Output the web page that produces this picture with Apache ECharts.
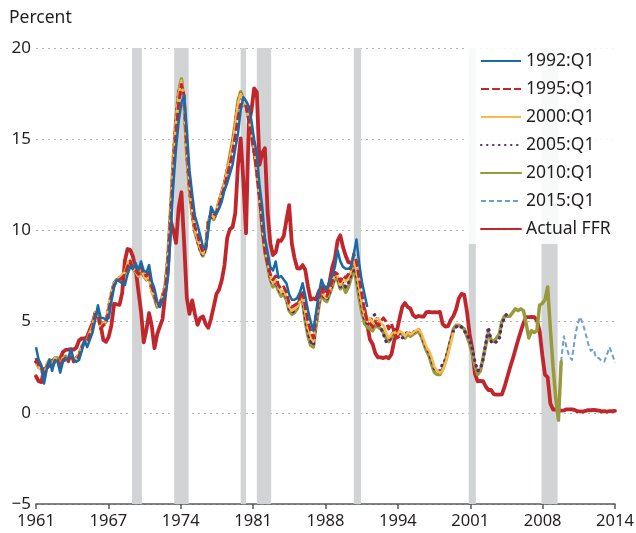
<!DOCTYPE html>
<html><head><meta charset="utf-8">
<script src="https://cdn.jsdelivr.net/npm/echarts@6.0.0/dist/echarts.min.js"></script>
<style>html,body{margin:0;padding:0;background:#fff}#c{width:636px;height:533px}</style>
</head><body><div id="c"></div>
<script>
const baseYear = 1961;
const xTickLabels = ['1961','1967','1974','1981','1988','1994','2001','2008','2014'];
const recessions = [[1969.92,1970.83],[1973.83,1975.17],[1980.0,1980.5],[1981.5,1982.83],[1990.5,1991.17],[2001.17,2001.83],[2007.92,2009.42]];

// Actual FFR, quarterly averages from 1961:Q1
const ffrQuarterly = [
2.00,1.73,1.68,2.40, 2.46,2.61,2.85,2.92, 2.97,2.96,3.33,3.45, 3.46,3.49,3.46,3.58,
3.97,4.08,4.07,4.17, 4.56,4.91,5.41,5.56, 4.82,3.99,3.89,4.17, 4.79,5.98,5.94,5.92,
6.57,8.33,8.98,8.94, 8.57,7.88,6.70,5.57, 3.86,4.56,5.47,4.75, 3.54,4.30,4.74,5.14,
6.54,7.82,10.56,10.00, 9.32,11.25,12.09,9.35, 6.30,5.42,6.16,5.41, 4.83,5.20,5.28,4.87,
4.66,5.16,5.82,6.51, 6.76,7.28,8.10,9.58, 10.07,10.18,10.95,13.58, 15.05,12.69,9.84,15.85,
16.57,17.78,17.58,13.59, 14.23,14.51,11.01,9.29, 8.65,8.80,9.46,9.43, 9.69,10.56,11.39,9.27,
8.48,7.92,7.90,8.10, 7.83,6.92,6.21,6.27, 6.22,6.65,6.84,6.92, 6.66,7.16,7.98,8.47,
9.44,9.73,9.08,8.61, 8.25,8.24,8.16,7.74, 6.43,5.86,5.64,4.82, 4.02,3.77,3.26,3.04,
3.04,3.00,3.06,2.99, 3.21,3.94,4.49,5.17, 5.81,6.02,5.80,5.72, 5.36,5.24,5.31,5.28,
5.28,5.52,5.53,5.51, 5.52,5.50,5.53,4.86, 4.73,4.75,5.09,5.31, 5.68,6.27,6.52,6.47,
5.59,4.33,3.50,2.13, 1.73,1.75,1.74,1.44, 1.25,1.25,1.02,1.00, 1.00,1.01,1.43,1.95,
2.47,2.94,3.46,3.98, 4.46,4.91,5.25,5.25, 5.26,5.25,5.07,4.50, 3.18,2.09,1.94,0.51,
0.18,0.18,0.16,0.12, 0.13,0.19,0.19,0.19, 0.16,0.09,0.08,0.07, 0.10,0.15,0.14,0.16,
0.14,0.12,0.08,0.09, 0.07,0.09,0.09,0.10];

const v1992 = [[1961.0,3.6],[1961.25,2.9],[1961.5,2.6],[1961.75,1.6],[1962.0,2.4],[1962.25,2.9],[1962.5,2.3],[1962.75,2.9],[1963.0,2.8],[1963.25,2.2],[1963.5,2.8],[1963.75,2.9],[1964.0,3.0],[1964.25,3.5],[1964.5,2.9],[1964.75,2.8],[1965.0,2.9],[1965.25,3.4],[1965.5,4.0],[1965.75,3.6],[1966.0,4.0],[1966.25,4.4],[1966.5,5.1],[1966.75,5.9],[1967.0,5.2],[1967.25,5.2],[1967.5,5.1],[1967.75,5.2],[1968.0,6.1],[1968.25,6.9],[1968.5,7.3],[1968.75,7.2],[1969.0,7.1],[1969.25,7.0],[1969.5,7.6],[1969.75,8.0],[1970.0,7.9],[1970.25,8.2],[1970.5,7.8],[1970.75,8.3],[1971.0,7.8],[1971.25,7.7],[1971.5,8.1],[1971.75,7.2],[1972.0,6.8],[1972.25,6.1],[1972.5,5.8],[1972.75,6.2],[1973.0,6.4],[1973.25,7.5],[1973.5,9.8],[1973.75,12.5],[1974.0,14.5],[1974.25,16.0],[1974.5,17.0],[1974.75,17.4],[1975.0,15.5],[1975.25,13.3],[1975.5,12.0],[1975.75,10.8],[1976.0,10.3],[1976.25,9.7],[1976.5,9.1],[1976.75,9.0],[1977.0,10.0],[1977.25,11.3],[1977.5,11.0],[1977.75,10.9],[1978.0,11.2],[1978.25,11.6],[1978.5,12.2],[1978.75,12.6],[1979.0,13.1],[1979.25,13.6],[1979.5,14.5],[1979.75,15.3],[1980.0,16.6],[1980.25,17.3],[1980.5,17.1],[1980.75,16.8],[1981.0,16.0],[1981.25,15.0],[1981.5,14.2],[1981.75,12.5],[1982.0,11.3],[1982.25,9.6],[1982.5,8.8],[1982.75,8.0],[1983.0,7.8],[1983.25,8.3],[1983.5,7.4],[1983.75,7.5],[1984.0,7.3],[1984.25,7.1],[1984.5,6.5],[1984.75,6.2],[1985.0,6.2],[1985.25,6.3],[1985.5,6.6],[1985.75,7.1],[1986.0,6.4],[1986.25,5.6],[1986.5,5.0],[1986.75,4.5],[1987.0,5.5],[1987.25,6.5],[1987.5,7.3],[1987.75,6.9],[1988.0,6.8],[1988.25,7.2],[1988.5,7.5],[1988.75,8.0],[1989.0,8.9],[1989.25,8.3],[1989.5,8.0],[1989.75,7.9],[1990.0,7.9],[1990.25,8.0],[1990.5,8.7],[1990.75,9.5],[1991.0,8.2],[1991.25,7.2],[1991.5,6.5],[1991.75,5.8]];

const v1995 = [[1961.0,3.0],[1961.25,2.6],[1961.5,2.5],[1961.75,1.9],[1962.0,2.5],[1962.25,2.8],[1962.5,2.5],[1962.75,2.8],[1963.0,2.9],[1963.25,2.5],[1963.5,2.9],[1963.75,3.0],[1964.0,2.8],[1964.25,3.2],[1964.5,2.8],[1964.75,2.9],[1965.0,3.1],[1965.25,3.5],[1965.5,3.9],[1965.75,3.9],[1966.0,4.3],[1966.25,4.6],[1966.5,5.4],[1966.75,5.4],[1967.0,4.6],[1967.25,4.8],[1967.5,4.9],[1967.75,5.6],[1968.0,6.4],[1968.25,7.0],[1968.5,7.2],[1968.75,7.3],[1969.0,7.4],[1969.25,7.6],[1969.5,8.0],[1969.75,8.3],[1970.0,7.9],[1970.25,7.8],[1970.5,7.6],[1970.75,8.0],[1971.0,7.6],[1971.25,7.5],[1971.5,7.8],[1971.75,6.9],[1972.0,6.5],[1972.25,5.9],[1972.5,6.0],[1972.75,6.3],[1973.0,6.8],[1973.25,8.2],[1973.5,10.6],[1973.75,13.2],[1974.0,15.4],[1974.25,17.0],[1974.5,18.0],[1974.75,17.4],[1975.0,14.6],[1975.25,12.6],[1975.5,11.3],[1975.75,10.2],[1976.0,9.8],[1976.25,9.2],[1976.5,8.8],[1976.75,9.0],[1977.0,10.4],[1977.25,11.0],[1977.5,10.8],[1977.75,11.0],[1978.0,11.4],[1978.25,11.9],[1978.5,12.4],[1978.75,13.0],[1979.0,13.6],[1979.25,14.3],[1979.5,15.2],[1979.75,16.2],[1980.0,16.9],[1980.25,16.7],[1980.5,16.8],[1980.75,16.0],[1981.0,15.2],[1981.25,14.3],[1981.5,13.2],[1981.75,11.8],[1982.0,10.2],[1982.25,8.9],[1982.5,8.2],[1982.75,7.6],[1983.0,7.3],[1983.25,7.5],[1983.5,7.0],[1983.75,6.8],[1984.0,6.9],[1984.25,6.6],[1984.5,6.0],[1984.75,5.8],[1985.0,5.9],[1985.25,6.0],[1985.5,6.3],[1985.75,6.7],[1986.0,5.8],[1986.25,5.0],[1986.5,4.5],[1986.75,4.1],[1987.0,5.3],[1987.25,6.2],[1987.5,6.9],[1987.75,6.5],[1988.0,6.4],[1988.25,6.8],[1988.5,7.2],[1988.75,7.7],[1989.0,7.6],[1989.25,7.2],[1989.5,7.5],[1989.75,7.4],[1990.0,7.6],[1990.25,8.0],[1990.5,8.7],[1990.75,8.3],[1991.0,7.4],[1991.25,6.5],[1991.5,5.6],[1991.75,5.0],[1992.0,4.9],[1992.25,4.7],[1992.5,5.0],[1992.75,4.8],[1993.0,5.0],[1993.25,5.2],[1993.5,5.0],[1993.75,4.6],[1994.0,4.9],[1994.25,4.4],[1994.5,4.1],[1994.75,4.2]];

const v2000 = [[1961.0,2.7],[1961.25,2.5],[1961.5,2.3],[1961.75,1.9],[1962.0,2.6],[1962.25,2.8],[1962.5,2.6],[1962.75,3.0],[1963.0,2.9],[1963.25,2.6],[1963.5,3.0],[1963.75,3.0],[1964.0,2.9],[1964.25,3.1],[1964.5,2.8],[1964.75,3.0],[1965.0,3.2],[1965.25,3.6],[1965.5,3.8],[1965.75,4.0],[1966.0,4.4],[1966.25,4.8],[1966.5,5.5],[1966.75,5.2],[1967.0,4.7],[1967.25,4.9],[1967.5,5.0],[1967.75,5.8],[1968.0,6.6],[1968.25,7.1],[1968.5,7.3],[1968.75,7.4],[1969.0,7.6],[1969.25,7.7],[1969.5,8.2],[1969.75,8.4],[1970.0,8.0],[1970.25,7.7],[1970.5,7.5],[1970.75,8.0],[1971.0,7.5],[1971.25,7.3],[1971.5,7.6],[1971.75,6.6],[1972.0,6.4],[1972.25,5.9],[1972.5,6.0],[1972.75,6.4],[1973.0,7.0],[1973.25,8.5],[1973.5,11.0],[1973.75,13.8],[1974.0,16.0],[1974.25,17.5],[1974.5,18.2],[1974.75,17.0],[1975.0,14.2],[1975.25,12.3],[1975.5,11.0],[1975.75,10.0],[1976.0,9.5],[1976.25,9.0],[1976.5,8.7],[1976.75,9.1],[1977.0,10.6],[1977.25,10.9],[1977.5,10.7],[1977.75,11.1],[1978.0,11.6],[1978.25,12.1],[1978.5,12.6],[1978.75,13.3],[1979.0,14.0],[1979.25,14.8],[1979.5,15.8],[1979.75,17.0],[1980.0,17.5],[1980.25,17.1],[1980.5,16.9],[1980.75,16.2],[1981.0,15.4],[1981.25,14.4],[1981.5,13.3],[1981.75,11.9],[1982.0,10.3],[1982.25,9.0],[1982.5,8.3],[1982.75,7.5],[1983.0,7.1],[1983.25,7.3],[1983.5,6.9],[1983.75,6.6],[1984.0,6.7],[1984.25,6.4],[1984.5,5.8],[1984.75,5.6],[1985.0,5.7],[1985.25,5.8],[1985.5,6.1],[1985.75,6.4],[1986.0,5.5],[1986.25,4.7],[1986.5,4.2],[1986.75,3.9],[1987.0,5.1],[1987.25,6.0],[1987.5,6.8],[1987.75,6.4],[1988.0,6.3],[1988.25,6.7],[1988.5,7.1],[1988.75,7.6],[1989.0,7.5],[1989.25,7.0],[1989.5,7.3],[1989.75,7.2],[1990.0,7.4],[1990.25,7.8],[1990.5,8.4],[1990.75,7.8],[1991.0,6.9],[1991.25,6.0],[1991.5,5.3],[1991.75,5.0],[1992.0,5.2],[1992.25,4.9],[1992.5,5.1],[1992.75,5.2],[1993.0,4.9],[1993.25,4.8],[1993.5,4.4],[1993.75,4.1],[1994.0,4.3],[1994.25,4.5],[1994.5,4.2],[1994.75,4.5],[1995.0,4.4],[1995.25,4.2],[1995.5,4.4],[1995.75,4.3],[1996.0,4.4],[1996.25,4.5],[1996.5,4.6],[1996.75,4.4],[1997.0,4.0],[1997.25,3.6],[1997.5,3.4],[1997.75,3.0],[1998.0,2.5],[1998.25,2.3],[1998.5,2.2],[1998.75,2.3],[1999.0,2.7],[1999.25,3.2],[1999.5,3.8],[1999.75,4.4]];

const v2005 = [[1961.0,2.8],[1961.25,2.6],[1961.5,2.4],[1961.75,1.9],[1962.0,2.5],[1962.25,2.8],[1962.5,2.6],[1962.75,2.9],[1963.0,2.9],[1963.25,2.6],[1963.5,2.9],[1963.75,3.0],[1964.0,2.9],[1964.25,3.1],[1964.5,2.8],[1964.75,3.0],[1965.0,3.2],[1965.25,3.6],[1965.5,3.9],[1965.75,4.0],[1966.0,4.4],[1966.25,4.8],[1966.5,5.5],[1966.75,5.2],[1967.0,4.7],[1967.25,4.9],[1967.5,5.0],[1967.75,5.8],[1968.0,6.6],[1968.25,7.1],[1968.5,7.3],[1968.75,7.4],[1969.0,7.5],[1969.25,7.7],[1969.5,8.1],[1969.75,8.4],[1970.0,8.0],[1970.25,7.7],[1970.5,7.5],[1970.75,7.9],[1971.0,7.5],[1971.25,7.3],[1971.5,7.6],[1971.75,6.7],[1972.0,6.4],[1972.25,5.8],[1972.5,6.0],[1972.75,6.4],[1973.0,7.0],[1973.25,8.5],[1973.5,11.1],[1973.75,13.9],[1974.0,16.1],[1974.25,17.6],[1974.5,18.2],[1974.75,17.0],[1975.0,14.2],[1975.25,12.2],[1975.5,10.9],[1975.75,10.0],[1976.0,9.4],[1976.25,8.9],[1976.5,8.6],[1976.75,9.0],[1977.0,10.5],[1977.25,10.9],[1977.5,10.6],[1977.75,11.0],[1978.0,11.6],[1978.25,12.1],[1978.5,12.6],[1978.75,13.3],[1979.0,14.0],[1979.25,14.8],[1979.5,15.8],[1979.75,17.0],[1980.0,17.5],[1980.25,17.1],[1980.5,16.9],[1980.75,16.2],[1981.0,15.3],[1981.25,14.3],[1981.5,13.2],[1981.75,11.8],[1982.0,10.2],[1982.25,8.9],[1982.5,8.2],[1982.75,7.4],[1983.0,7.0],[1983.25,7.2],[1983.5,6.8],[1983.75,6.5],[1984.0,6.6],[1984.25,6.3],[1984.5,5.7],[1984.75,5.5],[1985.0,5.6],[1985.25,5.8],[1985.5,6.2],[1985.75,6.2],[1986.0,5.2],[1986.25,4.4],[1986.5,3.9],[1986.75,3.7],[1987.0,4.9],[1987.25,5.9],[1987.5,6.7],[1987.75,6.3],[1988.0,6.2],[1988.25,6.6],[1988.5,7.0],[1988.75,7.5],[1989.0,7.4],[1989.25,6.9],[1989.5,7.2],[1989.75,6.9],[1990.0,7.1],[1990.25,7.6],[1990.5,8.1],[1990.75,7.5],[1991.0,6.6],[1991.25,5.8],[1991.5,5.1],[1991.75,4.9],[1992.0,5.0],[1992.25,5.3],[1992.5,5.4],[1992.75,5.0],[1993.0,4.7],[1993.25,4.3],[1993.5,3.9],[1993.75,3.9],[1994.0,4.2],[1994.25,4.6],[1994.5,4.4],[1994.75,4.3],[1995.0,4.1],[1995.25,4.2],[1995.5,4.5],[1995.75,4.3],[1996.0,4.4],[1996.25,4.5],[1996.5,4.6],[1996.75,4.3],[1997.0,3.9],[1997.25,3.5],[1997.5,3.3],[1997.75,2.8],[1998.0,2.4],[1998.25,2.3],[1998.5,2.3],[1998.75,2.7],[1999.0,2.9],[1999.25,3.4],[1999.5,4.0],[1999.75,4.5],[2000.0,4.7],[2000.25,4.8],[2000.5,4.7],[2000.75,4.5],[2001.0,4.3],[2001.25,4.0],[2001.5,3.5],[2001.75,2.8],[2002.0,2.3],[2002.25,2.4],[2002.5,2.9],[2002.75,3.8],[2003.0,4.7],[2003.25,3.9],[2003.5,3.8],[2003.75,3.9],[2004.0,4.0],[2004.25,4.9],[2004.5,5.2],[2004.75,5.5]];

const v2010 = [[1961.0,2.8],[1961.25,2.5],[1961.5,2.4],[1961.75,2.0],[1962.0,2.6],[1962.25,2.9],[1962.5,2.6],[1962.75,3.0],[1963.0,3.0],[1963.25,2.6],[1963.5,3.0],[1963.75,3.1],[1964.0,2.9],[1964.25,3.1],[1964.5,2.9],[1964.75,3.0],[1965.0,3.2],[1965.25,3.6],[1965.5,3.9],[1965.75,4.0],[1966.0,4.4],[1966.25,4.7],[1966.5,5.5],[1966.75,5.3],[1967.0,4.8],[1967.25,4.9],[1967.5,5.0],[1967.75,5.7],[1968.0,6.5],[1968.25,7.1],[1968.5,7.3],[1968.75,7.4],[1969.0,7.5],[1969.25,7.7],[1969.5,8.1],[1969.75,8.3],[1970.0,7.9],[1970.25,7.7],[1970.5,7.5],[1970.75,7.9],[1971.0,7.5],[1971.25,7.3],[1971.5,7.6],[1971.75,6.7],[1972.0,6.3],[1972.25,5.8],[1972.5,5.9],[1972.75,6.4],[1973.0,7.0],[1973.25,8.6],[1973.5,11.2],[1973.75,14.0],[1974.0,16.2],[1974.25,17.6],[1974.5,18.3],[1974.75,17.0],[1975.0,14.1],[1975.25,12.2],[1975.5,10.9],[1975.75,9.9],[1976.0,9.4],[1976.25,8.9],[1976.5,8.6],[1976.75,9.0],[1977.0,10.5],[1977.25,10.8],[1977.5,10.6],[1977.75,11.0],[1978.0,11.6],[1978.25,12.1],[1978.5,12.6],[1978.75,13.3],[1979.0,14.1],[1979.25,14.9],[1979.5,15.9],[1979.75,17.1],[1980.0,17.6],[1980.25,17.2],[1980.5,16.9],[1980.75,16.2],[1981.0,15.3],[1981.25,14.3],[1981.5,13.2],[1981.75,11.8],[1982.0,10.1],[1982.25,8.8],[1982.5,8.1],[1982.75,7.3],[1983.0,6.9],[1983.25,7.1],[1983.5,6.7],[1983.75,6.4],[1984.0,6.5],[1984.25,6.2],[1984.5,5.6],[1984.75,5.4],[1985.0,5.5],[1985.25,5.7],[1985.5,6.3],[1985.75,6.1],[1986.0,5.0],[1986.25,4.2],[1986.5,3.7],[1986.75,3.6],[1987.0,4.8],[1987.25,5.8],[1987.5,6.6],[1987.75,6.2],[1988.0,6.1],[1988.25,6.5],[1988.5,6.9],[1988.75,7.4],[1989.0,7.3],[1989.25,6.8],[1989.5,7.0],[1989.75,6.6],[1990.0,6.9],[1990.25,7.4],[1990.5,7.9],[1990.75,7.2],[1991.0,6.3],[1991.25,5.5],[1991.5,4.9],[1991.75,4.7],[1992.0,4.6],[1992.25,4.5],[1992.5,4.8],[1992.75,4.7],[1993.0,4.6],[1993.25,4.4],[1993.5,4.1],[1993.75,3.9],[1994.0,4.1],[1994.25,4.4],[1994.5,4.3],[1994.75,4.4],[1995.0,4.3],[1995.25,4.1],[1995.5,4.3],[1995.75,4.2],[1996.0,4.3],[1996.25,4.4],[1996.5,4.5],[1996.75,4.2],[1997.0,3.8],[1997.25,3.4],[1997.5,3.1],[1997.75,2.6],[1998.0,2.2],[1998.25,2.1],[1998.5,2.1],[1998.75,2.4],[1999.0,2.8],[1999.25,3.4],[1999.5,4.0],[1999.75,4.6],[2000.0,4.8],[2000.25,4.8],[2000.5,4.7],[2000.75,4.6],[2001.0,4.2],[2001.25,3.8],[2001.5,3.2],[2001.75,2.6],[2002.0,2.1],[2002.25,2.3],[2002.5,3.0],[2002.75,3.7],[2003.0,4.4],[2003.25,4.0],[2003.5,3.9],[2003.75,4.1],[2004.0,4.3],[2004.25,5.0],[2004.5,5.3],[2004.75,5.3],[2005.0,5.3],[2005.25,5.5],[2005.5,5.7],[2005.75,5.6],[2006.0,5.7],[2006.25,5.6],[2006.5,4.9],[2006.75,4.1],[2007.0,4.5],[2007.25,4.4],[2007.5,4.5],[2007.75,5.9],[2008.0,6.0],[2008.25,6.2],[2008.5,6.9],[2008.75,4.6],[2009.0,2.5],[2009.25,0.8],[2009.5,-0.4],[2009.75,2.8]];

const v2015 = [[2009.75,2.8],[2010.0,4.2],[2010.25,3.6],[2010.5,3.1],[2010.75,2.9],[2011.0,4.0],[2011.25,4.8],[2011.5,5.25],[2011.75,4.9],[2012.0,4.4],[2012.25,3.8],[2012.5,3.4],[2012.75,3.5],[2013.0,3.0],[2013.25,3.0],[2013.5,2.85],[2013.75,2.8],[2014.0,3.2],[2014.25,3.6],[2014.5,3.2],[2014.75,2.75]];

const FONT = 'Noto Sans';
const TXT = '#231f20';
const xInterval = 53.75 / 8;
const toXY = arr => arr.map(p => [p[0] - baseYear, p[1]]);
const ffrData = ffrQuarterly.map((v, i) => [i / 4, v]);

function lineSeries(name, data, color, width, type, cap) {
  return {
    name: name, type: 'line', data: data, showSymbol: false, symbol: 'none',
    lineStyle: { color: color, width: width, type: type || 'solid', cap: cap || 'butt', join: 'round' },
    itemStyle: { color: color }, silent: true, animation: false
  };
}

const chart = echarts.init(document.getElementById('c'), null, { renderer: 'canvas' });
const ffrSeries = lineSeries('Actual FFR', ffrData, '#c0272d', 3.8, 'solid', 'round');
ffrSeries.markArea = {
  silent: true, z: 1,
  itemStyle: { color: '#d1d3d4' },
  data: recessions.map(r => [{ xAxis: r[0] - baseYear }, { xAxis: r[1] - baseYear }])
};

chart.setOption({
  animation: false,
  backgroundColor: '#fff',
  grid: { left: 36, right: 21, top: 48, bottom: 29, containLabel: false, outerBoundsMode: 'none' },
  graphic: [{ type: 'text', left: 9, top: 9, style: { text: 'Percent', fontSize: 17.5, fontFamily: FONT, fill: TXT } }],
  xAxis: {
    type: 'value', min: 0, max: 53.75, interval: xInterval,
    axisLine: { onZero: false, lineStyle: { color: '#58595b', width: 1.5 } },
    axisTick: { show: true, length: 5, lineStyle: { color: '#58595b', width: 1.5 } },
    axisLabel: { fontSize: 16.5, fontFamily: FONT, color: TXT, margin: 9,
      formatter: v => xTickLabels[Math.round(v / xInterval)] },
    splitLine: { show: false }
  },
  yAxis: {
    type: 'value', min: -5, max: 20, interval: 5,
    axisLine: { show: false }, axisTick: { show: false },
    axisLabel: { fontSize: 17, fontFamily: FONT, color: TXT, margin: 5,
      formatter: v => (v < 0 ? '\u2212' + Math.abs(v) : String(v)) },
    splitLine: { show: true, lineStyle: { color: '#b5b5b5', width: 1.2, type: [2, 4] } }
  },
  legend: {
    orient: 'vertical', left: 468, top: 46, padding: [6, 6, 6, 12],
    itemWidth: 40, itemHeight: 12, itemGap: 10,
    backgroundColor: 'rgba(255,255,255,0.85)',
    itemStyle: { opacity: 0, borderWidth: 0 },
    textStyle: { fontSize: 17.5, fontFamily: FONT, color: TXT, lineHeight: 17 },
    data: ['1992:Q1', '1995:Q1', '2000:Q1', '2005:Q1', '2010:Q1', '2015:Q1', 'Actual FFR'],
    selectedMode: false
  },
  series: [
    ffrSeries,
    lineSeries('2015:Q1', toXY(v2015), '#6f9fd0', 2, [5, 3]),
    lineSeries('2010:Q1', toXY(v2010), '#999a3d', 3.5, 'solid', 'round'),
    lineSeries('2005:Q1', toXY(v2005), '#5b2a6e', 3.2, [0.5, 5.5], 'round'),
    lineSeries('2000:Q1', toXY(v2000), '#fdb94a', 2.5),
    lineSeries('1995:Q1', toXY(v1995), '#c0272d', 3, [8, 3]),
    lineSeries('1992:Q1', toXY(v1992), '#1a6aa7', 2.5)
  ]
});
</script>
</body></html>
